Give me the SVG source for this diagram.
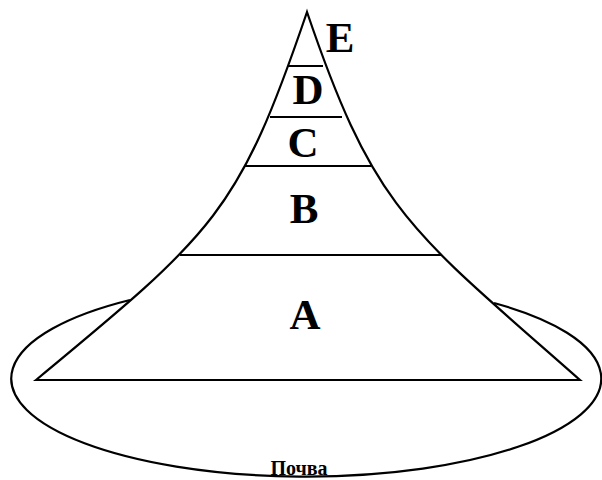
<svg xmlns="http://www.w3.org/2000/svg" width="602" height="480" viewBox="0 0 602 480">
  <style>
    .ln { fill: none; stroke: #000; stroke-width: 2.2; }
    .pyr { fill: #fff; stroke: #000; stroke-width: 2.2; stroke-linejoin: miter; }
    .lbl { font-family: "Liberation Serif", "Times New Roman", serif; font-weight: bold; font-size: 43px; fill: #000; text-anchor: middle; }
    .soil { font-family: "Liberation Serif", "Times New Roman", serif; font-weight: bold; font-size: 20px; fill: #000; text-anchor: middle; }
  </style>
  <rect width="602" height="480" fill="#fff"/>
  <g id="soil">
    <path class="ln" d="M130,300 A295,98 0 1 0 494,303"/>
    <text class="soil" x="299" y="475">Почва</text>
  </g>
  <g id="pyramid">
    <path class="pyr" d="M307,12 C239,212 215,232 36,380 L580,380 C410,230 375,212 307,12 Z"/>
  </g>
  <g id="tier-A">
    <text class="lbl" x="305" y="329">A</text>
  </g>
  <g id="tier-B">
    <line class="ln" x1="180" y1="255" x2="441" y2="255"/>
    <text class="lbl" x="304" y="223">B</text>
  </g>
  <g id="tier-C">
    <line class="ln" x1="245" y1="166" x2="371" y2="166"/>
    <text class="lbl" x="303" y="157">C</text>
  </g>
  <g id="tier-D">
    <line class="ln" x1="270" y1="117" x2="342" y2="117"/>
    <text class="lbl" x="308" y="104">D</text>
  </g>
  <g id="tier-E">
    <line class="ln" x1="288" y1="66" x2="323" y2="66"/>
    <text class="lbl" x="340" y="52">E</text>
  </g>
</svg>
